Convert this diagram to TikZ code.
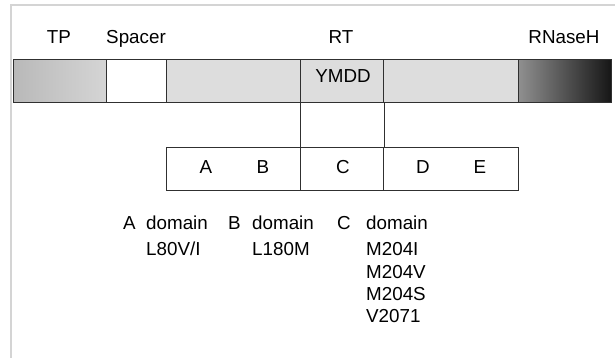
\documentclass[tikz,border=0pt]{standalone}
\usepackage{fontspec}
\setmainfont{Liberation Sans}
\definecolor{framegray}{HTML}{D4D4D4}
\definecolor{segfill}{HTML}{DDDDDD}
\definecolor{edge}{HTML}{303030}
\pgfdeclarehorizontalshading{tpshade}{100bp}{color(0bp)=(black!33); color(100bp)=(black!11)}
\pgfdeclarehorizontalshading{rnshade}{100bp}{color(0bp)=(black!20); color(84bp)=(black); color(100bp)=(black)}
\tikzset{
  seg/.style={draw=edge, line width=1pt, rectangle, inner sep=0pt, anchor=north west, minimum height=43pt},
  lab/.style={inner sep=0pt, anchor=base, font=\fontsize{18.8}{22}\selectfont},
  labw/.style={inner sep=0pt, anchor=base west, font=\fontsize{18.8}{22}\selectfont},
  link/.style={draw=edge, line width=1pt},
}
\begin{document}
\begin{tikzpicture}[x=1pt, y=-1pt]
\useasboundingbox (0,0) rectangle (615,358);
\fill[white] (0,0) rectangle (615,358);
% frame
\draw[framegray, line width=1.5pt] (11,358) -- (11,5) -- (615,5);
% bar
\node[seg, shading=tpshade, minimum width=93pt] (tp) at (13,59) {};
\node[seg, fill=white, minimum width=60pt] (spacer) at (106,59) {};
\node[seg, fill=segfill, minimum width=134pt] (rt) at (166,59) {};
\node[seg, fill=segfill, minimum width=83pt] (ymdd) at (300,59) {};
\node[seg, fill=segfill, minimum width=135pt] (rt2) at (383,59) {};
\node[seg, shading=rnshade, minimum width=93pt] (rnase) at (518,59) {};
% top labels
\node[lab] (ltp) at (59,44) {TP};
\node[lab] (lsp) at (136,44) {Spacer};
\node[lab] (lrt) at (341,44) {RT};
\node[lab] (lrn) at (564,44) {RNaseH};
\node[lab] (lymdd) at (343,83) {YMDD};
% domain box
\node[seg, minimum width=134pt, minimum height=43pt] (bab) at (166,147) {};
\node[seg, minimum width=83pt, minimum height=43pt] (bc) at (300,147) {};
\node[seg, minimum width=135pt, minimum height=43pt] (bde) at (383,147) {};
\draw[link] (ymdd.south west) -- (bc.north west);
\draw[link] (ymdd.south east) -- (bc.north east);
\node[lab] (la) at (206,174) {A};
\node[lab] (lb) at (263,174) {B};
\node[lab] (lc) at (343,174) {C};
\node[lab] (ld) at (423,174) {D};
\node[lab] (le) at (480,174) {E};
% mutation lists
\node[labw] (ta) at (123,229) {A};
\node[labw] (tad) at (146,229) {domain};
\node[labw] (ta1) at (146,255) {L80V/I};
\node[labw] (tb) at (228,229) {B};
\node[labw] (tbd) at (252,229) {domain};
\node[labw] (tb1) at (252,255) {L180M};
\node[labw] (tc) at (337,229) {C};
\node[labw] (tcd) at (366,229) {domain};
\node[labw] (tc1) at (366,255) {M204I};
\node[labw] (tc2) at (366,278) {M204V};
\node[labw] (tc3) at (366,300) {M204S};
\node[labw] (tc4) at (366,322) {V2071};
\end{tikzpicture}
\end{document}
